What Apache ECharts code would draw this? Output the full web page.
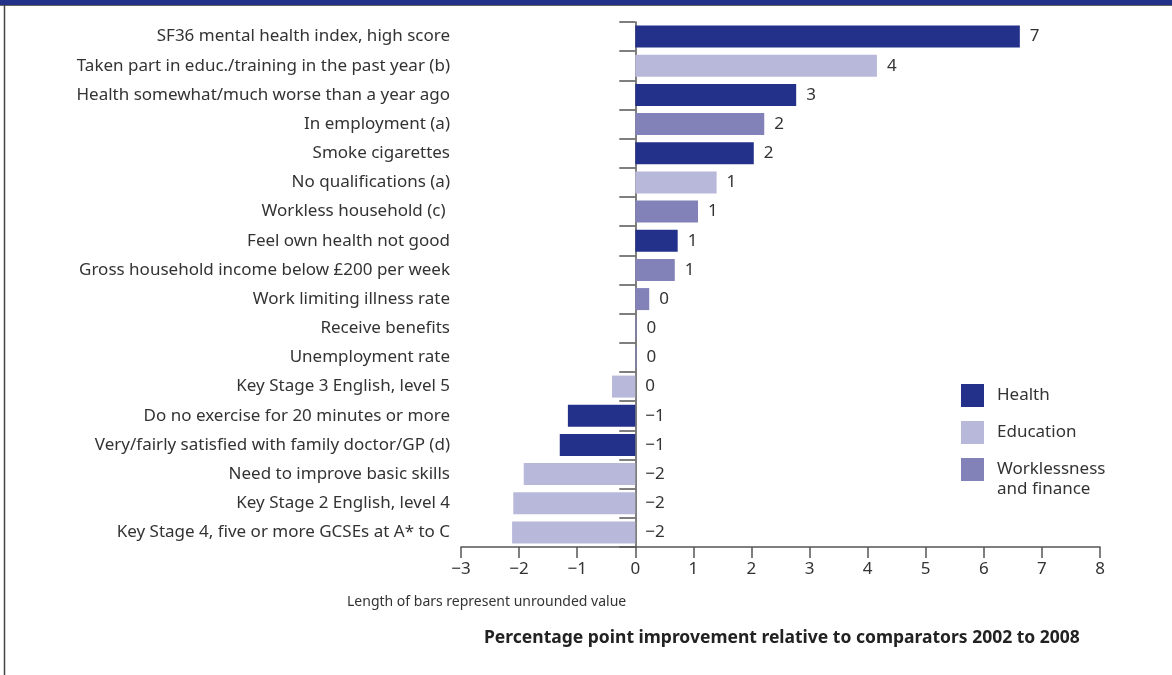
<!DOCTYPE html>
<html>
<head>
<meta charset="utf-8">
<title>Percentage point improvement</title>
<script src="https://cdn.jsdelivr.net/npm/echarts@6/dist/echarts.min.js"></script>
<style>
  html, body { margin: 0; padding: 0; background: #fff; }
  #main { width: 1172px; height: 675px; }
</style>
</head>
<body>
<div id="main"></div>
<script>
// categories, top to bottom
var categories = [
  'SF36 mental health index, high score',
  'Taken part in educ./training in the past year (b)',
  'Health somewhat/much worse than a year ago',
  'In employment (a)',
  'Smoke cigarettes',
  'No qualifications (a)',
  'Workless household (c) ',
  'Feel own health not good',
  'Gross household income below £200 per week',
  'Work limiting illness rate',
  'Receive benefits',
  'Unemployment rate',
  'Key Stage 3 English, level 5',
  'Do no exercise for 20 minutes or more',
  'Very/fairly satisfied with family doctor/GP (d)',
  'Need to improve basic skills',
  'Key Stage 2 English, level 4',
  'Key Stage 4, five or more GCSEs at A* to C'
];
// group of each category: H = health, E = education, W = worklessness and finance
var groups = ['H','E','H','W','H','E','W','H','W','W','W','W','E','H','H','E','E','E'];
// unrounded bar lengths
var values = [6.62, 4.16, 2.77, 2.22, 2.04, 1.40, 1.08, 0.73, 0.68, 0.24, 0.02, 0.02, -0.40, -1.16, -1.30, -1.92, -2.10, -2.12];
// rounded value labels
var valueLabels = [7, 4, 3, 2, 2, 1, 1, 1, 1, 0, 0, 0, 0, -1, -1, -2, -2, -2];
var xTicks = [-3, -2, -1, 0, 1, 2, 3, 4, 5, 6, 7, 8];

var seriesNames = { H: 'Health', E: 'Education', W: 'Worklessness and finance' };
var colors = { H: '#24318a', E: '#b8b8da', W: '#8281b8' };

function minus(v) { return v < 0 ? '\u2212' + (-v) : String(v); }

var myChart = echarts.init(document.getElementById('main'));

var series = ['H', 'E', 'W'].map(function (g) {
  return {
    name: seriesNames[g],
    type: 'bar',
    stack: 'all',
    barWidth: 22,
    itemStyle: { color: colors[g] },
    data: values.map(function (v, i) { return groups[i] === g ? v : '-'; }),
    label: {
      show: true,
      position: 'right',
      distance: 10,
      color: '#333',
      fontSize: 17,
      fontFamily: 'Noto Sans',
      formatter: function (p) { return minus(valueLabels[p.dataIndex]); }
    }
  };
});

option = {
  backgroundColor: '#fff',
  animation: false,
  textStyle: { fontFamily: 'Noto Sans' },
  title: [
    {
      text: 'Percentage point improvement relative to comparators 2002 to 2008',
      left: 484, top: 629, padding: 0,
      textStyle: { fontSize: 17.5, fontWeight: 'bold', color: '#222', fontFamily: 'Noto Sans' }
    },
    {
      text: 'Length of bars represent unrounded value',
      left: 347, top: 595, padding: 0,
      textStyle: { fontSize: 14, fontWeight: 'normal', color: '#333', fontFamily: 'Noto Sans' }
    }
  ],
  legend: {
    orient: 'vertical',
    left: 961, top: 384,
    padding: 0,
    itemWidth: 23, itemHeight: 23, itemGap: 14,
    icon: 'rect',
    data: ['Health', 'Education', 'Worklessness and finance'],
    formatter: function (name) { return name === 'Worklessness and finance' ? 'Worklessness' : name; },
    textStyle: { fontSize: 17, color: '#333', padding: [0, 0, 0, 8] }
  },
  grid: { left: 461, right: 72, top: 22, bottom: 128, outerBoundsMode: 'none' },
  xAxis: {
    type: 'value',
    min: xTicks[0], max: xTicks[xTicks.length - 1], interval: 1,
    axisLine: { show: true, lineStyle: { color: '#555', width: 1.5 } },
    axisTick: { show: true, length: 11, lineStyle: { color: '#555', width: 1.5 } },
    axisLabel: { margin: 14, fontSize: 17, color: '#333', formatter: function (v) { return minus(v); } },
    splitLine: { show: false }
  },
  yAxis: {
    type: 'category',
    inverse: true,
    data: categories,
    axisLine: { show: true, onZero: true, lineStyle: { color: '#555', width: 1.5 } },
    axisTick: { show: true, length: 16, lineStyle: { color: '#555', width: 1.5 } },
    axisLabel: { margin: 11, fontSize: 17, color: '#333' }
  },
  graphic: [
    { type: 'rect', shape: { x: 0, y: 0, width: 1172, height: 5 }, style: { fill: '#24318a' } },
    { type: 'line', shape: { x1: 0, y1: 5.5, x2: 1172, y2: 5.5 }, style: { stroke: '#666', lineWidth: 1 } },
    { type: 'line', shape: { x1: 4.5, y1: 5, x2: 4.5, y2: 675 }, style: { stroke: '#444', lineWidth: 1.5 } },
    { type: 'text', left: 997, top: 481, style: { text: 'and finance', fontSize: 17, fill: '#333', fontFamily: 'Noto Sans' } }
  ],
  series: series
};

myChart.setOption(option);
</script>
</body>
</html>
